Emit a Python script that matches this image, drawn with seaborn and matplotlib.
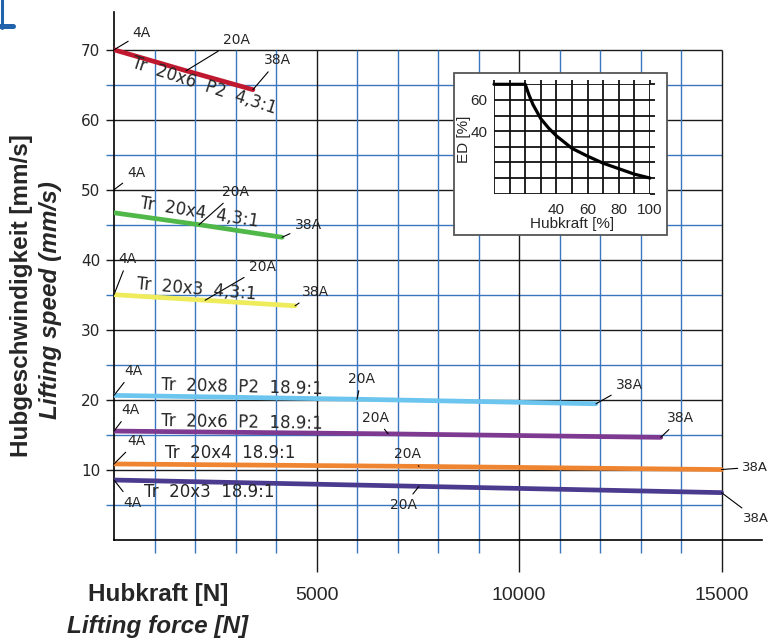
import matplotlib
matplotlib.use("Agg")
import pandas as pd
import matplotlib.pyplot as plt
from matplotlib.patches import Rectangle
from matplotlib.lines import Line2D
import seaborn as sns

# one line per spindle / gear ratio, read at 4A, 20A and 38A motor current
series = ["Tr 20x6 P2 4,3:1", "Tr 20x4 4,3:1", "Tr 20x3 4,3:1",
          "Tr 20x8 P2 18.9:1", "Tr 20x6 P2 18.9:1", "Tr 20x4 18.9:1", "Tr 20x3 18.9:1"]
colors = ["#c0182f", "#4fb848", "#eeec5a", "#6cc5ee", "#7e3990", "#ef8531", "#4b3b8e"]

force_4A = [0, 0, 0, 0, 0, 0, 0]
speed_4A = [70.0, 46.7, 35.0, 20.6, 15.5, 10.8, 8.5]
force_20A = [1780, 2100, 2250, 6000, 6770, 7530, 7530]
speed_20A = [67.0, 45.0, 34.2, 20.05, 15.1, 10.45, 7.6]
force_38A = [3430, 4150, 4470, 11900, 13500, 15000, 15000]
speed_38A = [64.3, 43.2, 33.4, 19.4, 14.6, 10.0, 6.7]

x_ticks = [5000, 10000, 15000]
y_ticks = [10, 20, 30, 40, 50, 60, 70]

# duty cycle inset
ed_force = [0, 20, 22.5, 25, 30, 35, 40, 50, 60, 70, 80, 90, 100]
ed_value = [70, 70, 63, 57, 48, 42, 37, 29, 24, 19.5, 16, 12.5, 10]

sns.set_style("white")
plt.rcParams["font.family"] = ["DejaVu Sans"]

rows = []
for i, name in enumerate(series):
    for f, s in [(force_4A[i], speed_4A[i]), (force_20A[i], speed_20A[i]), (force_38A[i], speed_38A[i])]:
        rows.append({"Hubkraft": f, "Speed": s, "Series": name})
df = pd.DataFrame(rows)

W, H = 769, 639
fig = plt.figure(figsize=(W / 100, H / 100), dpi=100)
ax = fig.add_axes([114 / W, 1 - 539.5 / H, 648 / W, 527.5 / H])
ax.set_zorder(1)
ax.set_xlim(0, 16000)
ax.set_ylim(0, 75.4)

# drawing-sheet style grid: black every 10 / 5000, blue in between
blue = "#3a76bf"
dark = "#1a1a1a"
for v in range(5, 71, 5):
    ax.hlines(v, -200, 15000, color=dark if v % 10 == 0 else blue, lw=1.0, clip_on=False, zorder=1)
for f in range(1000, 15001, 1000):
    major = f % 5000 == 0
    ax.vlines(f, -4.6 if major else -1.9, 70, color=dark if major else blue, lw=1.0, clip_on=False, zorder=1)

sns.lineplot(data=df, x="Hubkraft", y="Speed", hue="Series", palette=dict(zip(series, colors)),
             estimator=None, sort=False, lw=3.4, legend=False, ax=ax, zorder=3)

for side in ["top", "right"]:
    ax.spines[side].set_visible(False)
for side in ["left", "bottom"]:
    ax.spines[side].set_color("black")
    ax.spines[side].set_linewidth(1.2)

ax.set_xticks(x_ticks)
ax.set_xticklabels([str(t) for t in x_ticks], family="Liberation Sans", fontsize=14)
ax.tick_params(axis="x", length=0, pad=34)
ax.set_yticks(y_ticks)
ax.set_yticklabels([str(t) for t in y_ticks], fontsize=11)
ax.tick_params(axis="y", length=0, pad=10)
ax.set_xlabel("")
ax.set_ylabel("")

# current labels with leader lines (offsets in points)
off_4A = [(20, 12), (16, 12), (10, 25.5), (13.7, 17.5), (11.5, 15), (16.5, 16.5), (13, -16.5)]
off_20A = [(36, 22), (26.5, 23.5), (41, 24), (3, 14.5), (-9.4, 11.5), (-8.6, 8.6), (-10.8, -13.7)]
off_38A = [(18, 21), (18.7, 8.6), (14.4, 10), (24, 13.5), (14.4, 13.7), (15, 1.8), (15.5, -18.7)]
anchor_4A = list(speed_4A)
anchor_4A[1] = 50  # the 4A leader of Tr 20x4 4,3:1 points at the 50 grid line in the source
lead = dict(arrowstyle="-", lw=0.8, color="black", shrinkA=1, shrinkB=0)
for i in range(len(series)):
    ax.annotate("4A", xy=(force_4A[i], anchor_4A[i]), xytext=off_4A[i], textcoords="offset points",
                ha="center", va="center", fontsize=10, arrowprops=lead, zorder=4)
    ax.annotate("20A", xy=(force_20A[i], speed_20A[i]), xytext=off_20A[i], textcoords="offset points",
                ha="center", va="center", fontsize=10, arrowprops=lead, zorder=4)
    at_edge = force_38A[i] >= 15000
    ax.annotate("38A", xy=(force_38A[i], speed_38A[i]), xytext=off_38A[i], textcoords="offset points",
                ha="left" if at_edge else "center", va="center", fontsize=9.5 if at_edge else 10,
                arrowprops=lead, zorder=4, annotation_clip=False)

# series names
name_pos = [(2222, 64.8, -18, "center"), (2099, 46.7, -9, "center"), (2025, 35.7, -5, "center"),
            (1160, 22.15, -1.5, "left"), (1160, 16.9, -1, "left"), (1259, 12.4, 0, "left"),
            (741, 6.8, 0, "left")]
for name, (x, y, rot, ha) in zip(series, name_pos):
    parts = name.split(" ")
    ax.text(x, y, "  ".join(parts), rotation=rot, rotation_mode="anchor", ha=ha, va="center",
            fontsize=12, zorder=4)

# axis titles
bold = dict(family="Liberation Sans", fontweight="bold", fontsize=17.5)
fig.text(158 / W, 1 - 595 / H, "Hubkraft [N]", ha="center", va="center", **bold)
fig.text(158 / W, 1 - 627 / H, "Lifting force [N]", ha="center", va="center", style="italic", **bold)
fig.text(22 / W, 1 - 296 / H, "Hubgeschwindigkeit [mm/s]", rotation=90, ha="center", va="center", **bold)
fig.text(51 / W, 1 - 300 / H, "Lifting speed (mm/s)", rotation=90, ha="center", va="center",
         style="italic", **bold)

# inset: duty cycle vs load
fig.add_artist(Rectangle((454 / W, 1 - 235 / H), 213 / W, 162 / H, transform=fig.transFigure,
                         facecolor="white", edgecolor="#555555", lw=1.3, zorder=2))
ins = fig.add_axes([494 / W, 1 - 193.7 / H, 156 / W, 109.4 / H], zorder=3)
ins.set_facecolor("none")
sns.lineplot(x=ed_force, y=ed_value, color="black", lw=2.3, ax=ins, clip_on=False, zorder=3)
ins.set_xlim(0, 100)
ins.set_ylim(0, 70)
ins.set_xticks(range(0, 101, 10))
ins.set_xticklabels(["", "", "", "", "40", "", "60", "", "80", "", "100"],
                    family="Liberation Sans", fontsize=11)
ins.set_yticks(range(0, 71, 10))
ins.set_yticklabels(["", "", "", "", "40", "", "60", ""], family="Liberation Sans", fontsize=11)
ins.grid(True, color="#111111", lw=1.3)
for s in ins.spines.values():
    s.set_visible(False)
ins.tick_params(axis="x", direction="out", length=3, width=1.3, color="#111111", top=True, pad=4)
ins.tick_params(axis="y", direction="out", length=3.6, width=1.3, color="#111111", right=True, pad=1)
ins.set_xlabel("Hubkraft [%]", family="Liberation Sans", fontsize=11, labelpad=0)
ins.set_ylabel("ED [%]", family="Liberation Sans", fontsize=11, labelpad=0)

# cropped corner mark of the source sheet
fig.add_artist(Line2D([1.5 / W, 1.5 / W], [1, 1 - 28 / H], color="#2062ab", lw=2.2))
fig.add_artist(Line2D([0, 12.7 / W], [1 - 25.5 / H, 1 - 25.5 / H], color="#2062ab", lw=3.6))

fig.savefig("out.png", dpi=100)
